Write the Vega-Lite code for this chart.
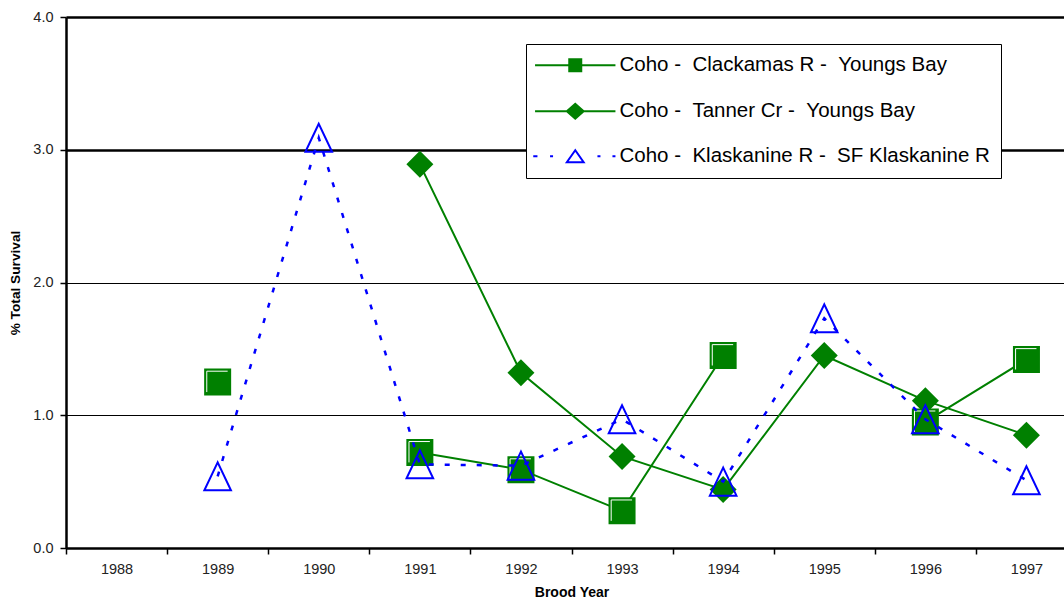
{
  "$schema": "https://vega.github.io/schema/vega-lite/v6.json",
  "autosize": "none",
  "width": 998,
  "height": 531,
  "padding": {"left": 66, "top": 17, "right": 0, "bottom": 52},
  "background": "white",
  "config": {
    "view": {"stroke": null},
    "font": "Liberation Sans"
  },
  "data": {
    "values": [
      {"year": 1989, "series": "Coho - \u00a0Clackamas R - \u00a0Youngs Bay", "value": 1.25},
      {"year": 1990, "series": "Coho - \u00a0Clackamas R - \u00a0Youngs Bay", "value": null},
      {"year": 1991, "series": "Coho - \u00a0Clackamas R - \u00a0Youngs Bay", "value": 0.72},
      {"year": 1992, "series": "Coho - \u00a0Clackamas R - \u00a0Youngs Bay", "value": 0.59},
      {"year": 1993, "series": "Coho - \u00a0Clackamas R - \u00a0Youngs Bay", "value": 0.28},
      {"year": 1994, "series": "Coho - \u00a0Clackamas R - \u00a0Youngs Bay", "value": 1.45},
      {"year": 1995, "series": "Coho - \u00a0Clackamas R - \u00a0Youngs Bay", "value": null},
      {"year": 1996, "series": "Coho - \u00a0Clackamas R - \u00a0Youngs Bay", "value": 0.95},
      {"year": 1997, "series": "Coho - \u00a0Clackamas R - \u00a0Youngs Bay", "value": 1.42},
      {"year": 1991, "series": "Coho - \u00a0Tanner Cr - \u00a0Youngs Bay", "value": 2.89},
      {"year": 1992, "series": "Coho - \u00a0Tanner Cr - \u00a0Youngs Bay", "value": 1.32},
      {"year": 1993, "series": "Coho - \u00a0Tanner Cr - \u00a0Youngs Bay", "value": 0.69},
      {"year": 1994, "series": "Coho - \u00a0Tanner Cr - \u00a0Youngs Bay", "value": 0.44},
      {"year": 1995, "series": "Coho - \u00a0Tanner Cr - \u00a0Youngs Bay", "value": 1.45},
      {"year": 1996, "series": "Coho - \u00a0Tanner Cr - \u00a0Youngs Bay", "value": 1.11},
      {"year": 1997, "series": "Coho - \u00a0Tanner Cr - \u00a0Youngs Bay", "value": 0.85},
      {"year": 1989, "series": "Coho - \u00a0Klaskanine R - \u00a0SF Klaskanine R", "value": 0.54},
      {"year": 1990, "series": "Coho - \u00a0Klaskanine R - \u00a0SF Klaskanine R", "value": 3.09},
      {"year": 1991, "series": "Coho - \u00a0Klaskanine R - \u00a0SF Klaskanine R", "value": 0.63},
      {"year": 1992, "series": "Coho - \u00a0Klaskanine R - \u00a0SF Klaskanine R", "value": 0.62},
      {"year": 1993, "series": "Coho - \u00a0Klaskanine R - \u00a0SF Klaskanine R", "value": 0.97},
      {"year": 1994, "series": "Coho - \u00a0Klaskanine R - \u00a0SF Klaskanine R", "value": 0.50},
      {"year": 1995, "series": "Coho - \u00a0Klaskanine R - \u00a0SF Klaskanine R", "value": 1.73},
      {"year": 1996, "series": "Coho - \u00a0Klaskanine R - \u00a0SF Klaskanine R", "value": 0.97},
      {"year": 1997, "series": "Coho - \u00a0Klaskanine R - \u00a0SF Klaskanine R", "value": 0.51}
    ]
  },
  "encoding": {
    "x": {
      "field": "year",
      "type": "ordinal",
      "scale": {"type": "band", "domain": [1988, 1989, 1990, 1991, 1992, 1993, 1994, 1995, 1996, 1997], "paddingInner": 0, "paddingOuter": 0, "range": [0, 1011]},
      "axis": {
        "title": "Brood Year",
        "titleFont": "Liberation Sans",
        "titleFontSize": 14,
        "titleFontWeight": "bold",
        "titleColor": "black",
        "titlePadding": 10,
        "labelAngle": 0,
        "labelFont": "Liberation Sans",
        "labelFontSize": 14.5,
        "labelColor": "#222222",
        "labelPadding": 8,
        "tickBand": "extent",
        "tickSize": 6,
        "tickWidth": 1.5,
        "tickColor": "black",
        "domainColor": "black",
        "domainWidth": 2.5,
        "grid": false
      }
    },
    "y": {
      "field": "value",
      "type": "quantitative",
      "scale": {"domain": [0, 4], "nice": false, "zero": true},
      "axis": {
        "title": "% Total Survival",
        "titleFont": "Liberation Sans",
        "titleFontSize": 13.7,
        "titleFontWeight": "bold",
        "titleColor": "black",
        "titlePadding": 10,
        "values": [0, 1, 2, 3, 4],
        "format": ".1f",
        "labelFont": "Liberation Sans",
        "labelFontSize": 14.5,
        "labelColor": "#222222",
        "labelPadding": 7,
        "tickSize": 6,
        "tickWidth": 1.5,
        "tickColor": "black",
        "domainColor": "black",
        "domainWidth": 2.5,
        "grid": true,
        "gridColor": "black",
        "gridOpacity": 1,
        "gridWidth": {"condition": {"test": "datum.value >= 3", "value": 2.5}, "value": 1.2}
      }
    }
  },
  "layer": [
    {
      "transform": [{"filter": {"field": "series", "equal": "Coho - \u00a0Clackamas R - \u00a0Youngs Bay"}}],
      "mark": {"type": "line", "color": "#008000", "strokeWidth": 2, "invalid": "break-paths-show-domains"}
    },
    {
      "transform": [{"filter": {"field": "series", "equal": "Coho - \u00a0Clackamas R - \u00a0Youngs Bay"}}],
      "mark": {"type": "point", "shape": "square", "size": 625, "filled": true, "opacity": 1, "fill": "#008000", "stroke": "#008000", "strokeWidth": 2}
    },
    {
      "transform": [{"filter": {"field": "series", "equal": "Coho - \u00a0Clackamas R - \u00a0Youngs Bay"}}],
      "mark": {"type": "point", "shape": "M-0.87,0.8V-0.87H0.8", "size": 625, "filled": false, "opacity": 1, "stroke": "white", "strokeWidth": 1}
    },
    {
      "transform": [{"filter": {"field": "series", "equal": "Coho - \u00a0Tanner Cr - \u00a0Youngs Bay"}}],
      "mark": {"type": "line", "color": "#008000", "strokeWidth": 2, "invalid": "break-paths-show-domains"}
    },
    {
      "transform": [{"filter": {"field": "series", "equal": "Coho - \u00a0Tanner Cr - \u00a0Youngs Bay"}}],
      "mark": {"type": "point", "shape": "diamond", "size": 729, "filled": true, "opacity": 1, "fill": "#008000"}
    },
    {
      "transform": [{"filter": {"field": "series", "equal": "Coho - \u00a0Klaskanine R - \u00a0SF Klaskanine R"}}],
      "mark": {"type": "line", "color": "#0000FF", "strokeWidth": 2.5, "strokeDash": [5, 11], "invalid": "break-paths-show-domains"}
    },
    {
      "transform": [{"filter": {"field": "series", "equal": "Coho - \u00a0Klaskanine R - \u00a0SF Klaskanine R"}}],
      "mark": {"type": "point", "shape": "M0,-1L-0.95,1H0.95Z", "size": 784, "filled": false, "opacity": 1, "stroke": "#0000FF", "strokeWidth": 2}
    },
    {
      "transform": [{"filter": "false"}],
      "mark": {"type": "point", "filled": true, "opacity": 1, "strokeWidth": 2},
      "encoding": {
        "fill": {
          "field": "series",
          "type": "nominal",
          "scale": {
            "domain": ["Coho - \u00a0Clackamas R - \u00a0Youngs Bay", "Coho - \u00a0Tanner Cr - \u00a0Youngs Bay", "Coho - \u00a0Klaskanine R - \u00a0SF Klaskanine R"],
            "range": ["#008000", "#008000", "transparent"]
          },
          "legend": null
        },
        "stroke": {
          "field": "series",
          "type": "nominal",
          "scale": {
            "domain": ["Coho - \u00a0Clackamas R - \u00a0Youngs Bay", "Coho - \u00a0Tanner Cr - \u00a0Youngs Bay", "Coho - \u00a0Klaskanine R - \u00a0SF Klaskanine R"],
            "range": ["#008000", "#008000", "#0000FF"]
          },
          "legend": null
        },
        "shape": {
          "field": "series",
          "type": "nominal",
          "scale": {
            "domain": ["Coho - \u00a0Clackamas R - \u00a0Youngs Bay", "Coho - \u00a0Tanner Cr - \u00a0Youngs Bay", "Coho - \u00a0Klaskanine R - \u00a0SF Klaskanine R"],
            "range": [
              "M-6.7,0H-1M1,0H6.7M-1,-1H1V1H-1Z",
              "M-6.7,0H6.7M-1.4,0L0,-1.25L1.4,0L0,1.25Z",
              "M-7,0H-6.3M-4.2,0H-3.7M3.7,0H4.2M6.2,0H6.7M0,-1L-1.4,1H1.4Z"
            ]
          },
          "legend": {
            "orient": "none",
            "legendX": 460,
            "legendY": 27,
            "title": null,
            "padding": 11,
            "strokeColor": "black",
            "fillColor": "white",
            "labelFont": "Liberation Sans",
            "labelFontSize": 20.5,
            "labelColor": "black",
            "labelLimit": 600,
            "labelOffset": 34,
            "symbolOffset": 28,
            "symbolSize": 144,
            "symbolStrokeWidth": 2,
            "symbolOpacity": 1,
            "rowPadding": 23
          }
        }
      }
    }
  ]
}
